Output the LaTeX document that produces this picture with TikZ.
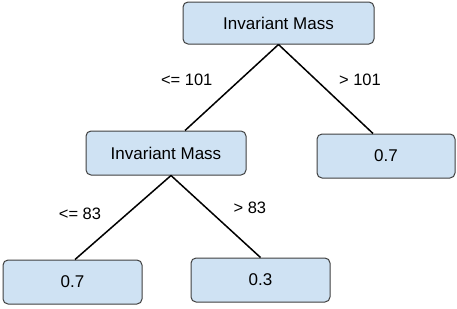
\documentclass[tikz,border=0pt]{standalone}
\usepackage{fontspec}
\setmainfont{Liberation Sans}
\usetikzlibrary{positioning}
\definecolor{boxblue}{HTML}{CFE2F3}
\tikzset{
  treenode/.style = {
    rectangle,
    rounded corners=5pt,
    draw=black!75,
    line width=1pt,
    fill=boxblue,
    font=\fontsize{17}{20}\selectfont,
    minimum height=44pt,
    minimum width=139pt,
    inner sep=0pt,
    text centered
  },
  tree_edge/.style = {
    line width=1.5pt,
    black
  },
  edgelabel/.style = {
    font=\fontsize{16.5}{20}\selectfont,
    inner sep=0pt
  }
}
\begin{document}
\begin{tikzpicture}[x=1pt, y=-1pt, on grid]
\useasboundingbox (0,0) rectangle (457,308);

% Wurzel
\node[treenode, minimum width=191pt, minimum height=42pt] (root) at (278.5,23) {Invariant Mass};

% zweite Ebene
\node[treenode, minimum width=160pt, below left=130pt and 112.5pt of root] (mass) {Invariant Mass};
\node[treenode, minimum width=138pt, below right=133pt and 107.5pt of root] (leafr) {0.7};

% Blaetter
\node[treenode, below left=129pt and 93.5pt of mass] (leafa) {0.7};
\node[treenode, below right=127pt and 94.5pt of mass] (leafb) {0.3};

% Verbindungen
\draw[tree_edge] (root.south) -- ([xshift=19pt]mass.north) node[edgelabel, pos=0.41, left=27pt] {<= 101};
\draw[tree_edge] (root.south) -- ([xshift=-13pt]leafr.north) node[edgelabel, pos=0.4, right=22pt] {> 101};

\draw[tree_edge] ([xshift=5pt]mass.south) -- ([xshift=2.5pt]leafa.north) node[edgelabel, pos=0.46, left=25pt] {<= 83};
\draw[tree_edge] ([xshift=5pt]mass.south) -- (leafb.north) node[edgelabel, pos=0.4, right=26pt] {> 83};

\end{tikzpicture}
\end{document}
